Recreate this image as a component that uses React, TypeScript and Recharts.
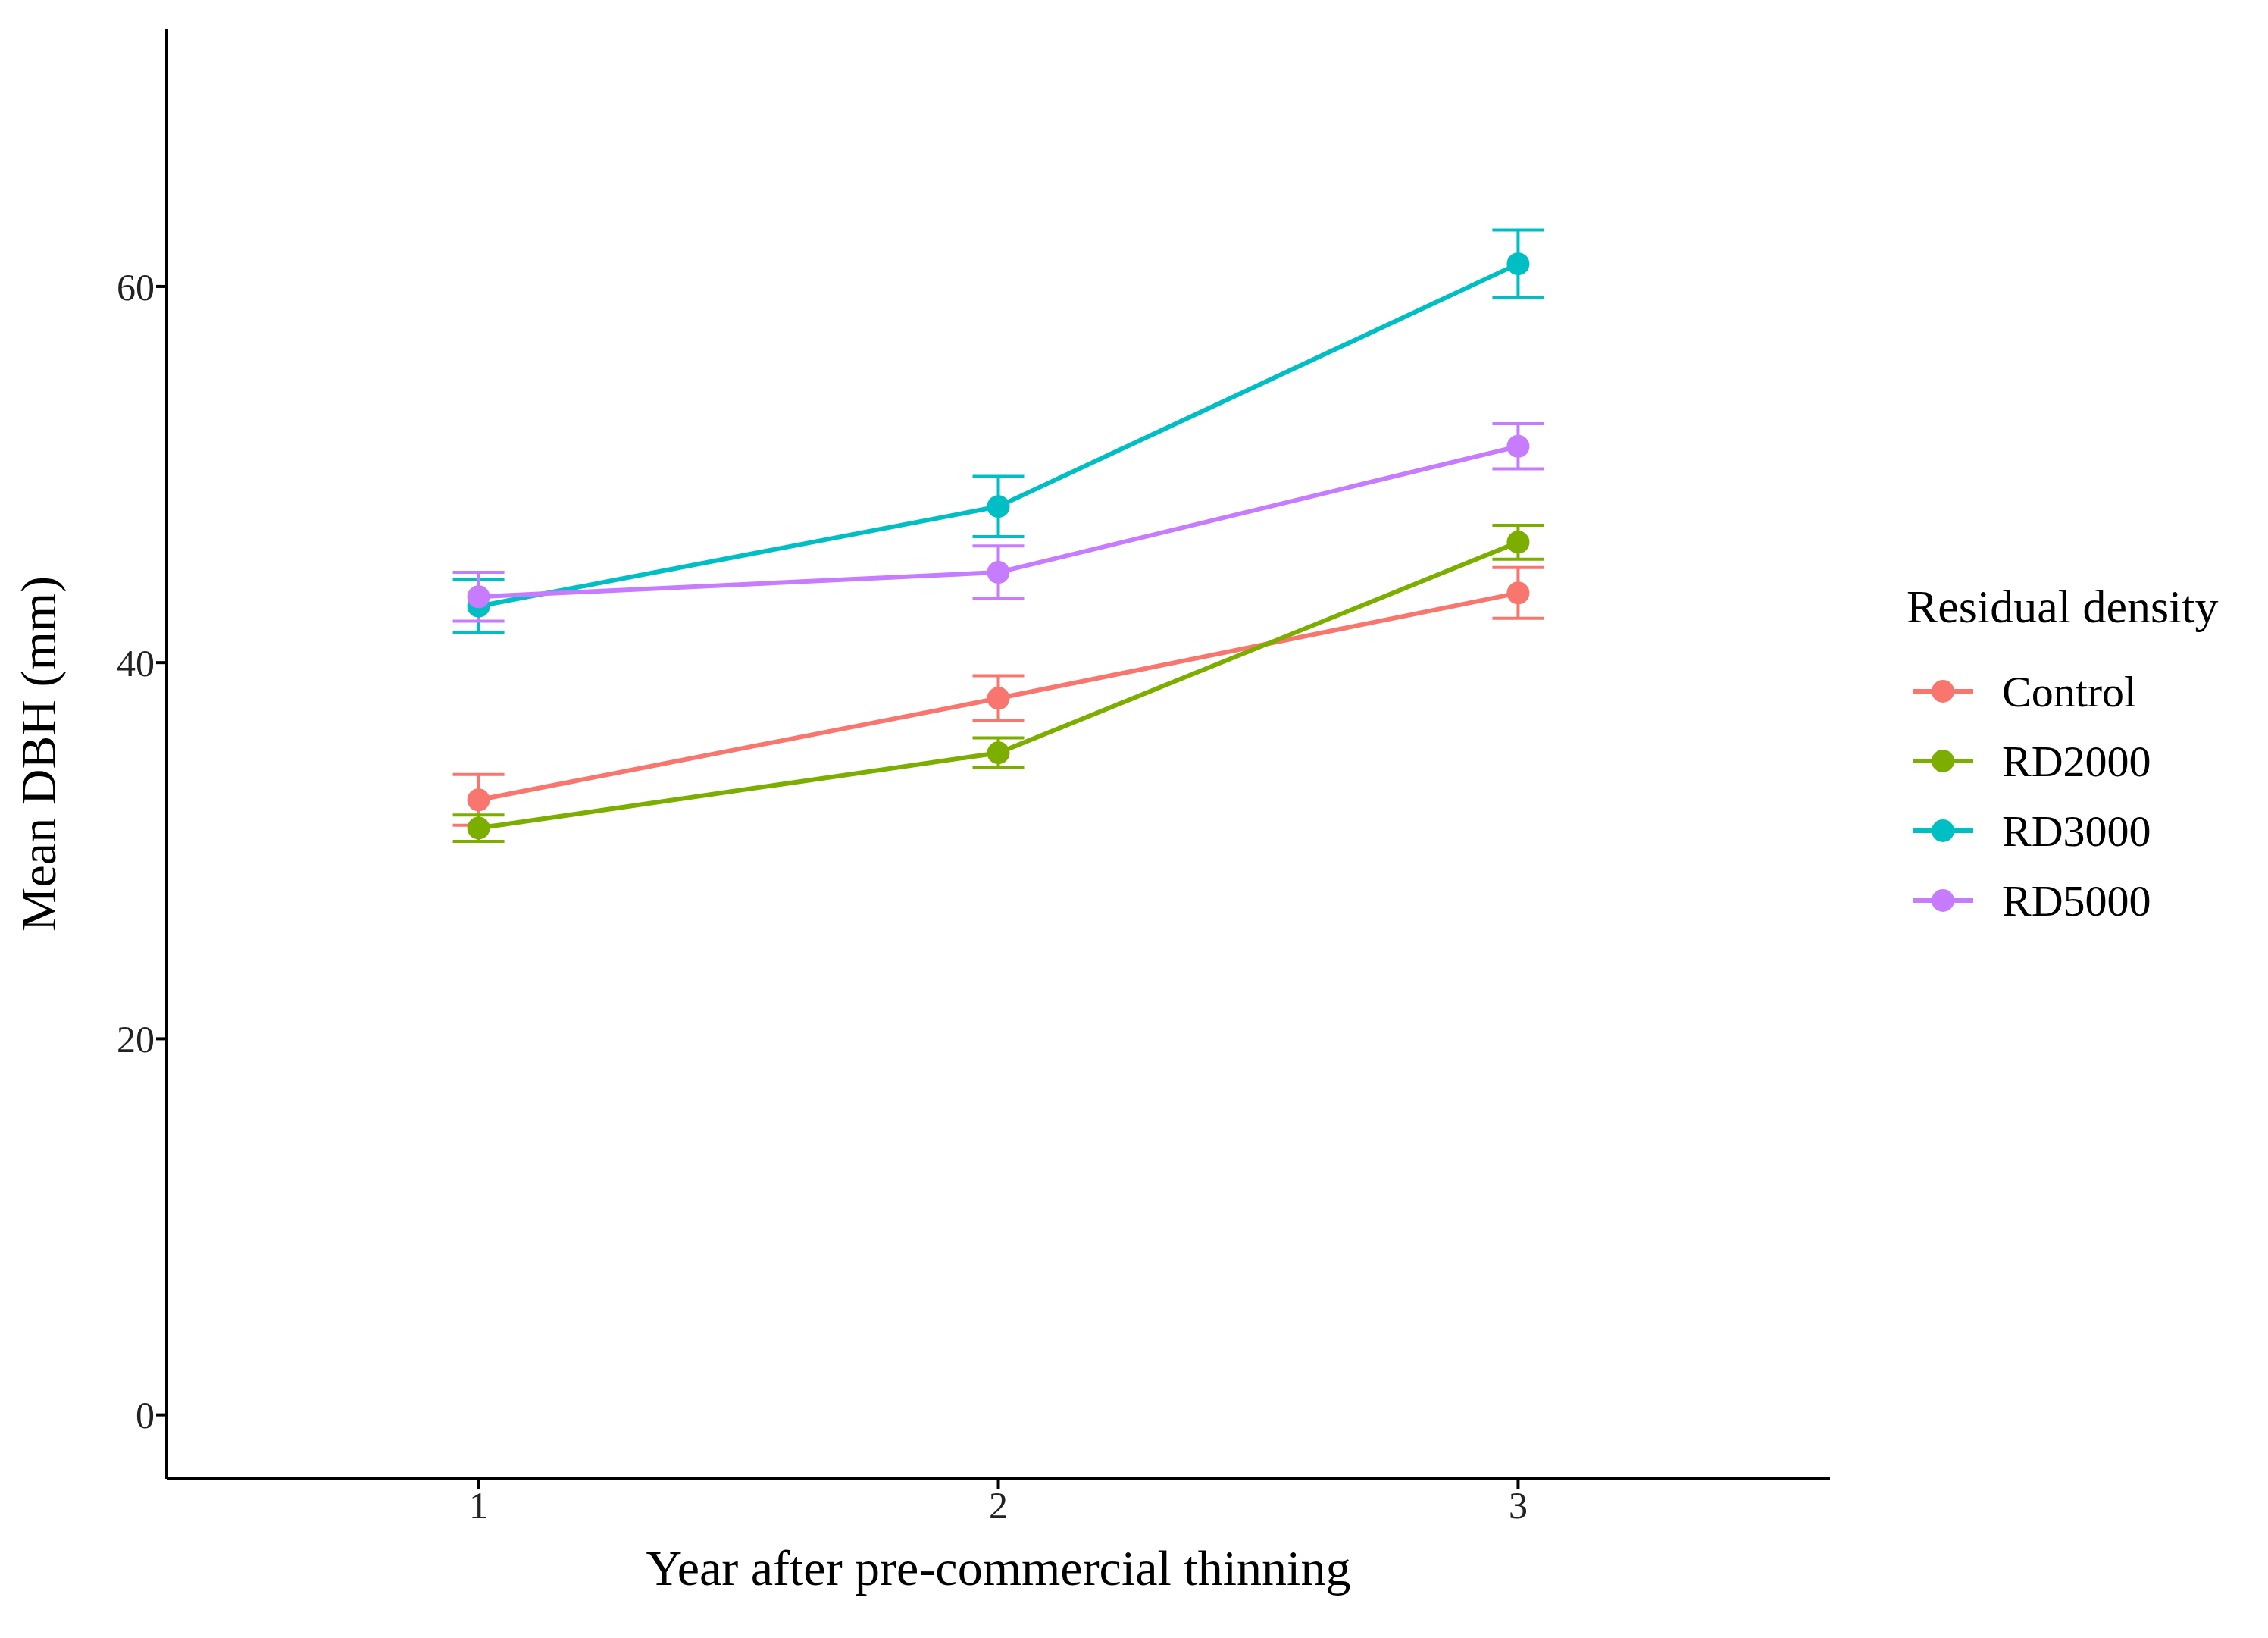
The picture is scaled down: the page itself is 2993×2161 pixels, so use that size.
import React from "react";
import { LineChart, Line, XAxis, YAxis, ErrorBar, Label } from "recharts";

const years = [1, 2, 3];
const seriesNames = ["Control", "RD2000", "RD3000", "RD5000"];
const colors = ["#F8766D", "#7CAE00", "#00BFC4", "#C77CFF"];
const controlMean = [32.7, 38.1, 43.7];
const controlErr = [1.35, 1.2, 1.35];
const rd2000Mean = [31.2, 35.2, 46.4];
const rd2000Err = [0.7, 0.8, 0.9];
const rd3000Mean = [43.0, 48.3, 61.2];
const rd3000Err = [1.4, 1.6, 1.8];
const rd5000Mean = [43.5, 44.8, 51.5];
const rd5000Err = [1.3, 1.4, 1.2];
const yTicks = [0, 20, 40, 60];

const means = [controlMean, rd2000Mean, rd3000Mean, rd5000Mean];
const errs = [controlErr, rd2000Err, rd3000Err, rd5000Err];
const seriesData = means.map((m, i) =>
  years.map((x, j) => ({ x, y: m[j], err: errs[i][j] }))
);

const font = "'Liberation Serif', 'Times New Roman', serif";
const tickStyle = { fontSize: 50, fill: "#222", fontFamily: font };

const App: React.FC = () => (
  <div style={{ position: "absolute", left: 0, top: 0, width: 2993, height: 2161, background: "#fff", fontFamily: font }}>
    <LineChart width={2993} height={2161} margin={{ top: 38, right: 578, bottom: 0, left: 100 }}>
      <XAxis
        type="number"
        dataKey="x"
        domain={[0.4, 3.6]}
        ticks={years}
        allowDuplicatedCategory={false}
        stroke="#000"
        strokeWidth={4}
        tickSize={14}
        tick={tickStyle}
        height={210}
      >
        <Label value="Year after pre-commercial thinning" position="insideBottom" offset={70} style={{ fontSize: 66, fill: "#000", fontFamily: font }} />
      </XAxis>
      <YAxis
        type="number"
        domain={[-3.4, 73.7]}
        ticks={yTicks}
        stroke="#000"
        strokeWidth={4}
        tickSize={14}
        tick={tickStyle}
        width={120}
      >
        <Label value="Mean DBH (mm)" angle={-90} position="insideLeft" offset={-50} style={{ fontSize: 66, fill: "#000", fontFamily: font, textAnchor: "middle" }} />
      </YAxis>
      {seriesData.map((d, i) => (
        <Line
          key={seriesNames[i]}
          data={d}
          dataKey="y"
          name={seriesNames[i]}
          stroke={colors[i]}
          strokeWidth={6}
          dot={{ r: 15, fill: colors[i], stroke: colors[i], strokeWidth: 0 }}
          isAnimationActive={false}
        >
          <ErrorBar dataKey="err" width={34} stroke={colors[i]} strokeWidth={4} direction="y" />
        </Line>
      ))}
    </LineChart>
    <div style={{ position: "absolute", left: 2516, top: 765, fontSize: 62, color: "#000" }}>Residual density</div>
    {seriesNames.map((n, i) => (
      <div key={n} style={{ position: "absolute", left: 2524, top: 875 + i * 92, height: 74, display: "flex", alignItems: "center" }}>
        <svg width={80} height={40}>
          <line x1={0} y1={20} x2={80} y2={20} stroke={colors[i]} strokeWidth={6} />
          <circle cx={40} cy={20} r={15} fill={colors[i]} />
        </svg>
        <span style={{ marginLeft: 38, fontSize: 58 }}>{n}</span>
      </div>
    ))}
  </div>
);

export default App;
